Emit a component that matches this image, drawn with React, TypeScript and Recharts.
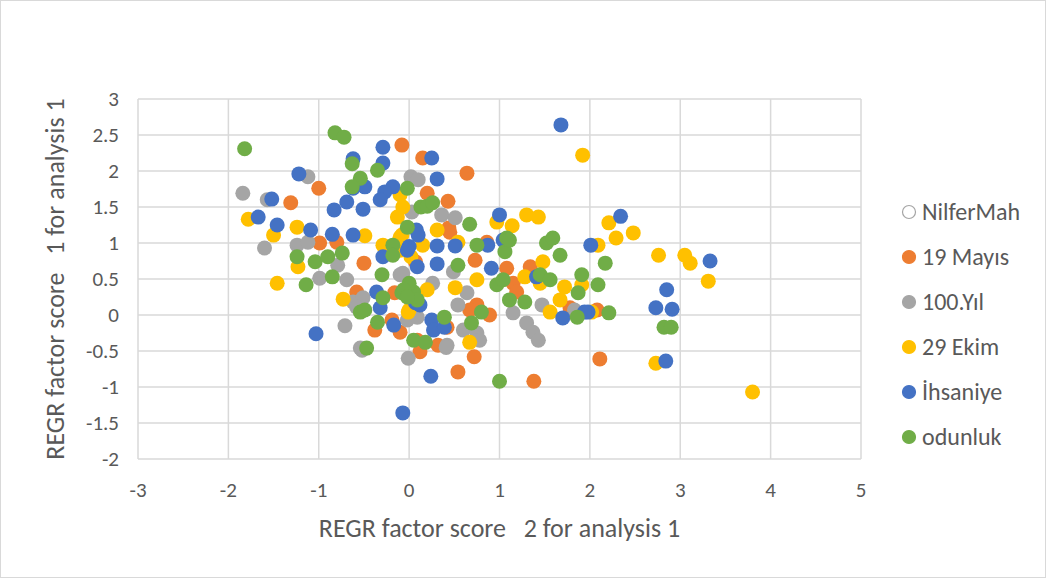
import { ScatterChart, Scatter, XAxis, YAxis, CartesianGrid, Label } from "recharts"

// axis ticks
const xTicks = [-3, -2, -1, 0, 1, 2, 3, 4, 5]
const yTicks = [-2, -1.5, -1, -0.5, 0, 0.5, 1, 1.5, 2, 2.5, 3]

// series values [factor 2, factor 1]
const nilferMah: number[][] = []

const mayis19 = [
  [-0.08, 2.36], [0.15, 2.18], [0.64, 1.97], [0.2, 1.69], [0.43, 1.58], [0.44, 1.21], [0.86, 1.01],
  [-1.0, 1.76], [-1.31, 1.56], [-0.99, 1.0], [-0.8, 1.01], [-0.5, 0.72], [-0.58, 0.32], [-0.16, 0.31],
  [-0.38, -0.21], [-0.1, -0.24], [-0.19, -0.07], [0.45, 1.15], [0.73, 0.76], [0.07, 0.74], [1.08, 0.65],
  [1.34, 0.67], [1.15, 0.44], [1.19, 0.32], [0.75, 0.14], [0.89, 0.0], [1.78, 0.1], [2.08, 0.07],
  [0.67, 0.07], [0.42, -0.17], [0.09, -0.35], [0.12, -0.51], [0.32, -0.42], [0.72, -0.58], [0.54, -0.79],
  [1.38, -0.92], [2.11, -0.61],
]

const yil100 = [
  [-1.84, 1.69], [-1.12, 1.92], [-1.57, 1.6], [0.02, 1.92], [0.1, 1.88], [0.03, 1.43], [0.36, 1.39],
  [0.51, 1.35], [-1.6, 0.93], [-1.24, 0.97], [-1.12, 1.01], [-0.99, 0.51], [-0.79, 0.69], [-0.69, 0.49],
  [-0.62, 0.18], [-0.51, 0.24], [-0.58, 0.11], [-0.71, -0.15], [-0.54, -0.46], [-0.52, -0.49], [-0.1, 0.56],
  [-0.02, -0.07], [-0.01, -0.6], [-0.07, 0.58], [0.26, 0.44], [0.49, 0.6], [0.64, 0.31], [0.54, 0.14],
  [0.6, -0.21], [0.75, -0.25], [1.15, 0.03], [1.3, -0.11], [1.37, -0.24], [1.43, -0.35], [1.47, 0.14],
  [1.83, 0.07], [0.42, -0.42], [0.09, -0.03], [0.41, -0.45], [0.78, -0.35],
]

const ekim29 = [
  [-1.78, 1.33], [-1.5, 1.11], [-1.24, 1.22], [-0.49, 1.1], [-0.29, 0.97], [-0.1, 1.67], [-0.07, 1.5],
  [-0.13, 1.36], [-0.1, 1.08], [1.92, 2.22], [1.3, 1.39], [1.43, 1.36], [0.97, 1.29], [1.14, 1.24],
  [0.31, 1.18], [0.54, 1.01], [0.15, 0.97], [2.21, 1.28], [2.29, 1.07], [2.48, 1.14], [2.09, 0.97],
  [2.76, 0.83], [3.05, 0.83], [3.11, 0.72], [3.31, 0.47], [1.91, 0.42], [2.02, 0.04], [2.73, -0.67],
  [3.8, -1.07], [-1.23, 0.67], [-1.46, 0.44], [-0.73, 0.22], [-0.08, 1.11], [-0.1, 0.9], [-0.01, 0.04],
  [0.02, 0.81], [1.48, 0.74], [1.28, 0.53], [1.45, 0.44], [1.72, 0.39], [0.75, 0.49], [0.51, 0.38],
  [1.67, 0.21], [1.56, 0.04], [0.0, 0.07], [0.2, 0.35], [0.67, -0.38],
]

const ihsaniye = [
  [-0.29, 2.33], [-0.62, 2.17], [-0.29, 2.11], [-1.22, 1.96], [-0.49, 1.78], [-0.62, 1.76], [-0.18, 1.78],
  [-0.27, 1.71], [-0.32, 1.6], [-1.52, 1.61], [-0.69, 1.57], [-0.83, 1.46], [-0.51, 1.47], [-1.67, 1.36],
  [-1.46, 1.25], [-1.09, 1.18], [-0.85, 1.12], [-0.62, 1.11], [0.0, 0.95], [0.08, 1.18], [1.68, 2.64],
  [0.25, 2.18], [0.31, 1.89], [1.0, 1.39], [2.01, 0.97], [0.51, 0.96], [0.31, 0.96], [0.1, 1.11],
  [0.87, 0.97], [1.04, 1.04], [2.34, 1.37], [3.33, 0.75], [2.85, 0.35], [2.73, 0.1], [2.91, 0.08],
  [2.84, -0.64], [1.98, 0.04], [-1.03, -0.26], [-0.36, 0.32], [-0.32, 0.1], [-0.17, -0.14], [-0.29, 0.81],
  [0.07, 0.17], [0.12, 0.14], [0.25, -0.07], [0.27, -0.21], [0.39, -0.17], [0.31, 0.71], [-0.02, 0.9],
  [0.09, 0.67], [0.91, 0.65], [1.41, 0.53], [1.7, -0.04], [1.94, 0.04], [0.24, -0.85], [-0.07, -1.36],
]

const odunluk = [
  [-1.82, 2.31], [-0.82, 2.53], [-0.72, 2.47], [-0.63, 2.1], [-0.54, 1.9], [-0.63, 1.78], [-0.35, 2.01],
  [-0.02, 1.76], [-0.02, 1.22], [-0.18, 0.97], [0.13, 1.5], [0.2, 1.51], [0.26, 1.56], [0.67, 1.26],
  [0.75, 0.97], [1.08, 1.07], [1.52, 1.0], [1.59, 1.07], [-1.24, 0.81], [-1.04, 0.74], [-0.9, 0.81],
  [-0.74, 0.86], [-1.14, 0.42], [-0.85, 0.53], [-0.3, 0.56], [-0.29, 0.24], [-0.54, 0.04], [-0.49, 0.07],
  [-0.35, -0.1], [0.05, -0.35], [-0.47, -0.46], [-0.08, 0.31], [0.05, 0.32], [0.09, 0.21], [-0.18, 0.83],
  [1.06, 0.88], [1.11, 1.04], [1.67, 0.83], [1.91, 0.56], [1.87, 0.31], [2.09, 0.42], [0.54, 0.69],
  [0.97, 0.42], [1.04, 0.49], [1.45, 0.56], [1.56, 0.49], [1.11, 0.21], [1.28, 0.18], [1.86, -0.03],
  [0.0, 0.44], [-0.06, 0.35], [-0.02, 0.25], [0.39, -0.03], [0.8, 0.04], [0.69, -0.11], [0.18, -0.38],
  [2.17, 0.72], [2.21, 0.03], [2.82, -0.17], [2.9, -0.17], [1.0, -0.92],
]

const series = [
  { name: "NilferMah", points: nilferMah, color: "#ffffff", stroke: "#a5a5a5" },
  { name: "19 Mayıs", points: mayis19, color: "#ed7d31" },
  { name: "100.Yıl", points: yil100, color: "#a5a5a5" },
  { name: "29 Ekim", points: ekim29, color: "#ffc000" },
  { name: "İhsaniye", points: ihsaniye, color: "#4472c4" },
  { name: "odunluk", points: odunluk, color: "#70ad47" },
]

const FONT = "Carlito, Calibri, Lato, sans-serif"
const TEXT = "#595959"
const GRID = "#d9d9d9"

const toRows = (pts: number[][]) => pts.map(([x, y]) => ({ x, y }))

// eksen basliklari
const XTitle = ({ viewBox }: any) => (
  <text
    x={viewBox.x + viewBox.width / 2}
    y={viewBox.y + 69}
    textAnchor="middle"
    dominantBaseline="central"
    fill={TEXT}
    fontSize={26}
    fontFamily={FONT}
    style={{ whiteSpace: "pre" }}
  >
    REGR factor score   2 for analysis 1
  </text>
)

const YTitle = ({ viewBox }: any) => {
  const cx = viewBox.x + 55
  const cy = viewBox.y + viewBox.height / 2
  return (
    <text
      x={cx}
      y={cy}
      transform={`rotate(-90, ${cx}, ${cy})`}
      textAnchor="middle"
      dominantBaseline="central"
      fill={TEXT}
      fontSize={26}
      fontFamily={FONT}
      style={{ whiteSpace: "pre" }}
    >
      REGR factor score   1 for analysis 1
    </text>
  )
}

const Dot = (props: any) => <circle cx={props.cx} cy={props.cy} r={7.5} fill={props.fill} />

function ChartLegend() {
  return (
    <div style={{ position: "absolute", left: 901, top: 189, fontFamily: FONT, fontSize: 24, color: TEXT }}>
      {series.map((s) => (
        <div key={s.name} style={{ display: "flex", alignItems: "center", height: 45 }}>
          <svg width={16} height={16} style={{ marginRight: 5 }}>
            <circle cx={8} cy={8} r={6.5} fill={s.color} stroke={s.stroke ?? s.color} strokeWidth={1.2} />
          </svg>
          <span>{s.name}</span>
        </div>
      ))}
    </div>
  )
}

export default function App() {
  const tickStyle = { fill: TEXT, fontSize: 21, fontFamily: FONT }
  return (
    <div style={{ position: "absolute", left: 0, top: 0, width: 1046, height: 578, background: "#fff" }}>
      <div
        style={{
          position: "absolute",
          left: 0,
          top: 0,
          width: 1044,
          height: 576,
          border: `1px solid ${GRID}`,
        }}
      />
      <ScatterChart width={1046} height={578} margin={{ top: 99, right: 185, bottom: 59, left: 0 }}>
        <CartesianGrid stroke={GRID} strokeWidth={1.5} />
        <XAxis
          type="number"
          dataKey="x"
          domain={[-3, 5]}
          ticks={xTicks}
          interval={0}
          height={60}
          axisLine={false}
          tickLine={false}
          tickMargin={17}
          tick={tickStyle}
        >
          <Label content={<XTitle />} />
        </XAxis>
        <YAxis
          type="number"
          dataKey="y"
          domain={[-2, 3]}
          ticks={yTicks}
          interval={0}
          width={138}
          axisLine={false}
          tickLine={false}
          tickMargin={13}
          tick={tickStyle}
        >
          <Label content={<YTitle />} />
        </YAxis>
        {series.map((s) => (
          <Scatter
            key={s.name}
            name={s.name}
            data={toRows(s.points)}
            fill={s.color}
            shape={<Dot />}
            isAnimationActive={false}
          />
        ))}
      </ScatterChart>
      <ChartLegend />
    </div>
  )
}
